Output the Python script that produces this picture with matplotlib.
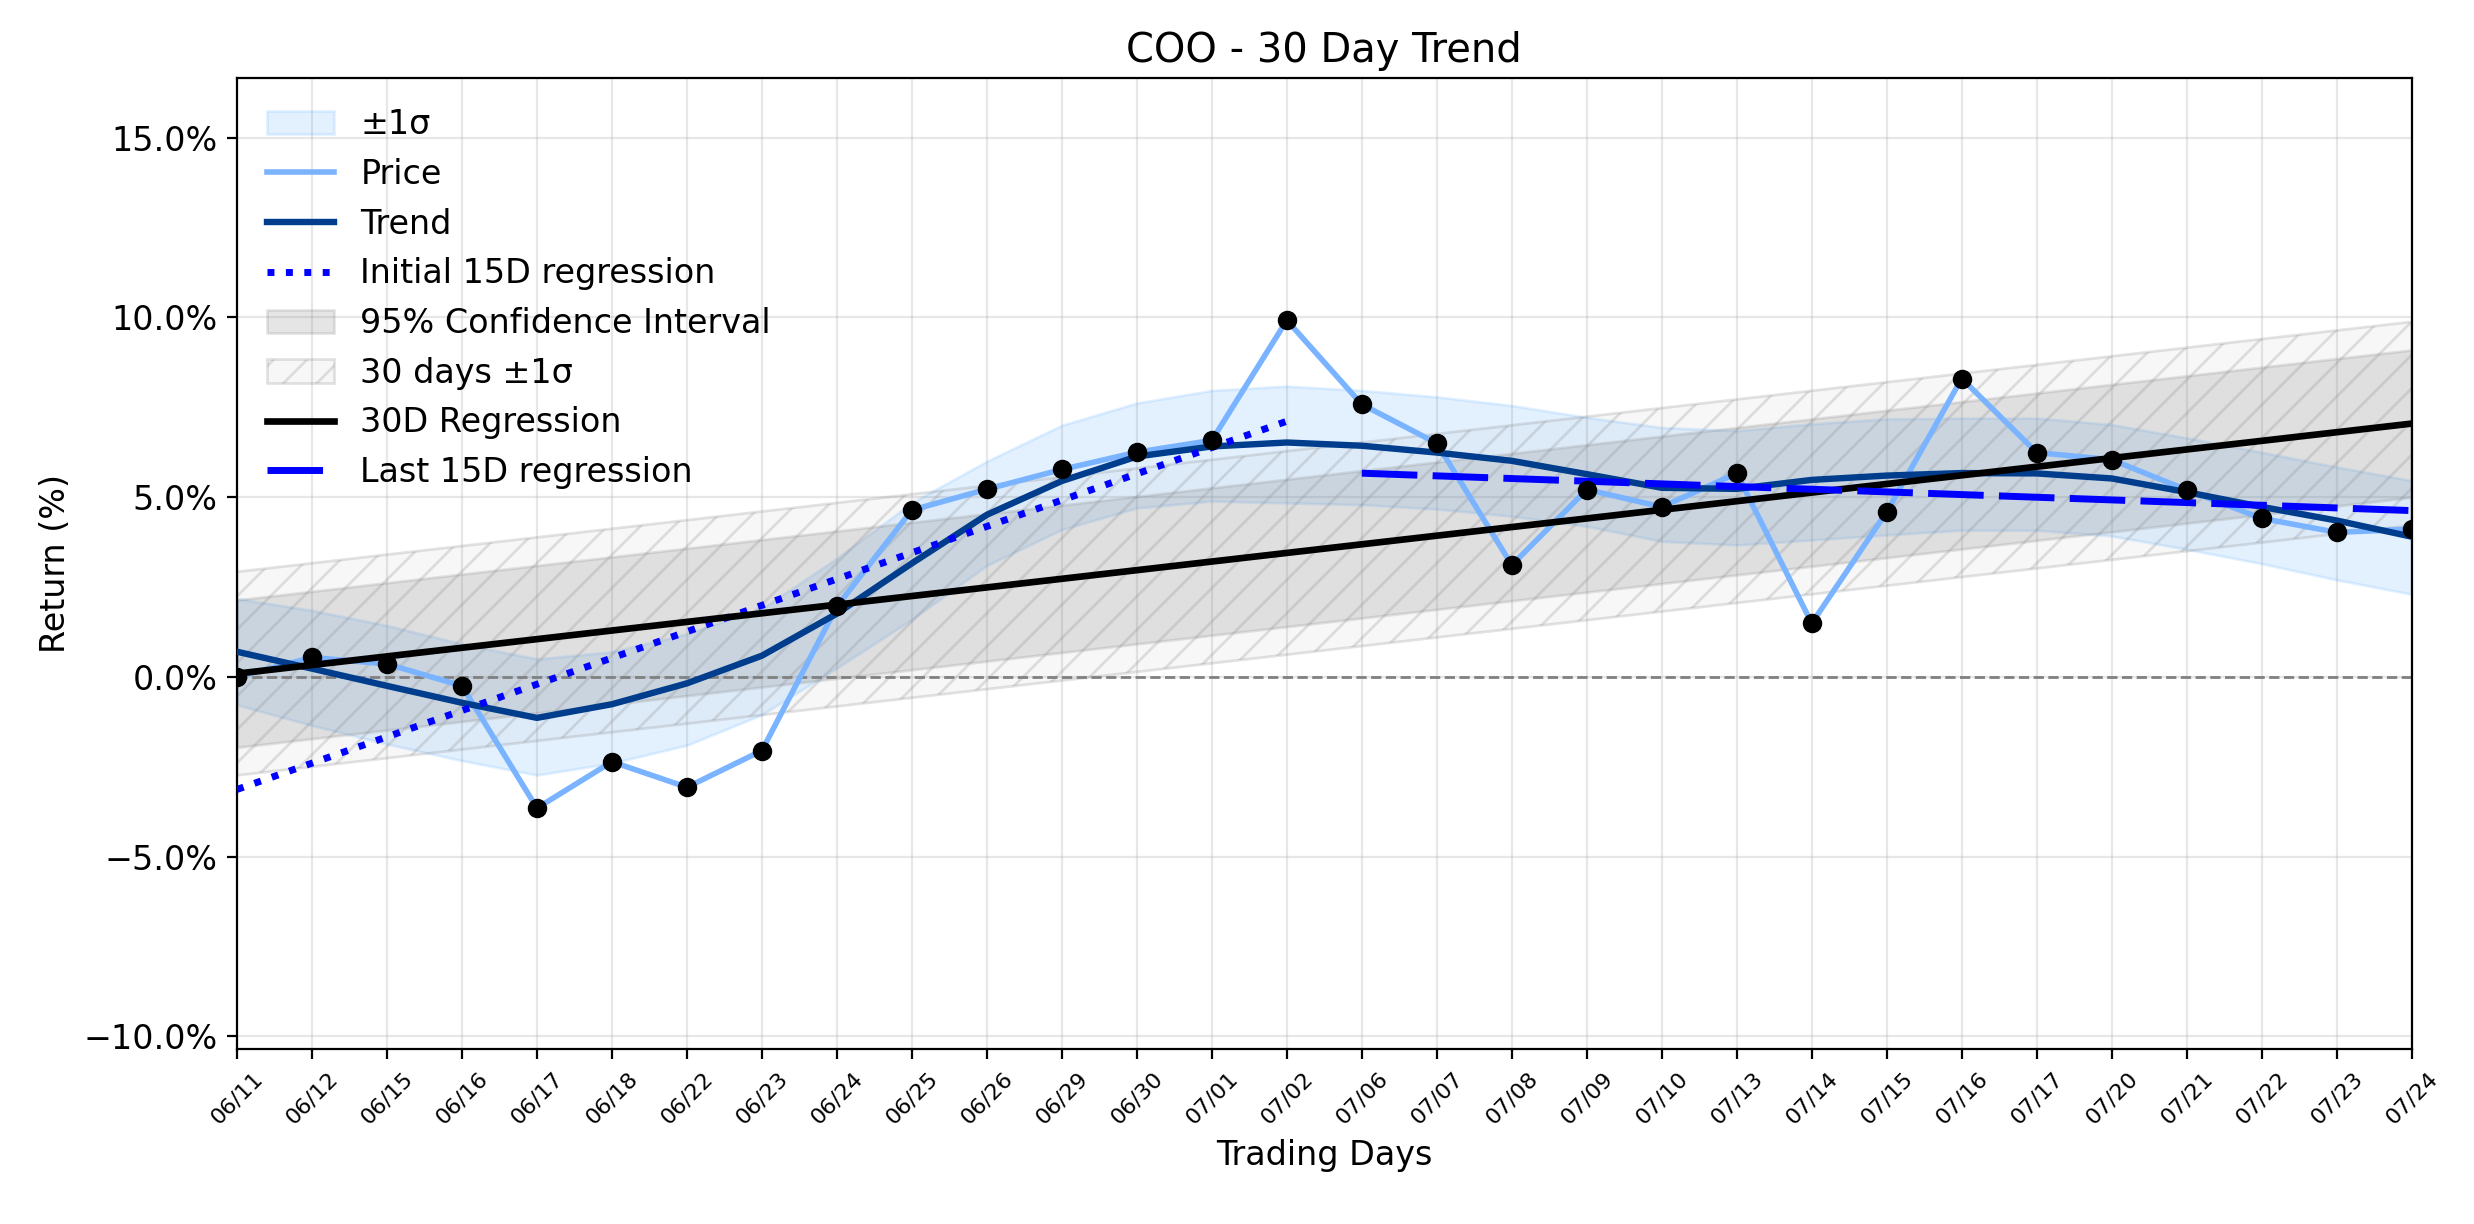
import numpy as np
import matplotlib
matplotlib.use("Agg")
import matplotlib.pyplot as plt
from matplotlib.ticker import PercentFormatter

# ---------------- data ----------------
dates = ["06/11", "06/12", "06/15", "06/16", "06/17", "06/18", "06/22", "06/23",
         "06/24", "06/25", "06/26", "06/29", "06/30", "07/01", "07/02", "07/06",
         "07/07", "07/08", "07/09", "07/10", "07/13", "07/14", "07/15", "07/16",
         "07/17", "07/20", "07/21", "07/22", "07/23", "07/24"]

price = [0.0, 0.54, 0.36, -0.25, -3.65, -2.36, -3.07, -2.05, 1.96, 4.64,
         5.22, 5.77, 6.25, 6.58, 9.92, 7.58, 6.50, 3.11, 5.21, 4.73,
         5.66, 1.49, 4.59, 8.30, 6.24, 6.04, 5.20, 4.41, 4.02, 4.11]

trend = [0.70, 0.23, -0.25, -0.72, -1.14, -0.76, -0.18, 0.59, 1.76, 3.16,
         4.51, 5.45, 6.13, 6.41, 6.52, 6.43, 6.24, 6.01, 5.64, 5.26,
         5.23, 5.48, 5.60, 5.67, 5.66, 5.52, 5.14, 4.73, 4.35, 3.90]

sigma_upper = [2.18, 1.85, 1.43, 0.92, 0.50, 0.70, 1.20, 1.90, 3.30, 4.85,
               6.00, 7.00, 7.62, 7.97, 8.09, 7.97, 7.79, 7.55, 7.22, 6.94,
               6.85, 7.04, 7.18, 7.20, 7.20, 7.02, 6.65, 6.25, 5.84, 5.46]
sigma_lower = [-0.78, -1.35, -1.87, -2.33, -2.73, -2.40, -1.90, -1.05, 0.25, 1.60,
               3.10, 4.10, 4.70, 4.89, 4.84, 4.79, 4.67, 4.47, 4.19, 3.77,
               3.67, 3.81, 3.95, 4.08, 4.08, 3.92, 3.55, 3.15, 2.70, 2.30]

ci_half_width = 2.05      # 95% confidence interval half width (%)
sigma_30_half_width = 2.83  # 30 days +-1 sigma half width (%)

# ---------------- derived ----------------
x = np.arange(len(price))
p = np.array(price)
coef30 = np.polyfit(x, p, 1)
reg30 = np.polyval(coef30, x)
x_first = x[:15]
coef_first = np.polyfit(x_first, p[:15], 1)
x_last = x[15:]
coef_last = np.polyfit(x_last, p[15:], 1)

# ---------------- figure ----------------
plt.rcParams["font.size"] = 12
fig = plt.figure(figsize=(12.37, 6.12), dpi=200)
ax = fig.add_axes([0.0958, 0.143, 0.879, 0.793])

ax.fill_between(x, sigma_lower, sigma_upper, color="#1e90ff", alpha=0.12,
                lw=1, label="\u00b11\u03c3", zorder=1)
l_price, = ax.plot(x, price, color="#7ab3ff", lw=2, label="Price", zorder=3)
l_trend, = ax.plot(x, trend, color="#003d8c", lw=2.3, label="Trend", zorder=4)
l_init, = ax.plot(x_first, np.polyval(coef_first, x_first), color="blue",
                  ls=":", lw=2.5, label="Initial 15D regression", zorder=5)
ax.fill_between(x, reg30 - ci_half_width, reg30 + ci_half_width,
                color="gray", alpha=0.2, lw=1, label="95% Confidence Interval", zorder=1)
ax.fill_between(x, reg30 - sigma_30_half_width, reg30 + sigma_30_half_width,
                facecolor=(0.5, 0.5, 0.5, 0.06), edgecolor=(0.5, 0.5, 0.5, 0.22),
                hatch="//", lw=1, label="30 days \u00b11\u03c3", zorder=1)
l_reg, = ax.plot(x, reg30, color="black", lw=2.4, label="30D Regression", zorder=5)
l_last, = ax.plot(x_last, np.polyval(coef_last, x_last), color="blue",
                  lw=2.5, dashes=(8, 2.2), label="Last 15D regression", zorder=6)
ax.scatter(x, price, color="black", s=36, zorder=7)
ax.axhline(0, color="gray", ls="--", lw=1, zorder=2)

ax.set_xlim(0, len(x) - 1)
ax.set_ylim(-10.35, 16.65)
ax.set_xticks(x)
ax.set_xticklabels(dates, rotation=45, fontsize=8)
ax.set_yticks([-10, -5, 0, 5, 10, 15])
ax.yaxis.set_major_formatter(PercentFormatter(xmax=100, decimals=1))
ax.grid(True, alpha=0.3)
ax.set_axisbelow(True)

ax.set_title("COO - 30 Day Trend")
ax.set_xlabel("Trading Days")
ax.set_ylabel("Return (%)")
ax.legend(loc="upper left", frameon=False)

fig.savefig("out.png", dpi=200)
